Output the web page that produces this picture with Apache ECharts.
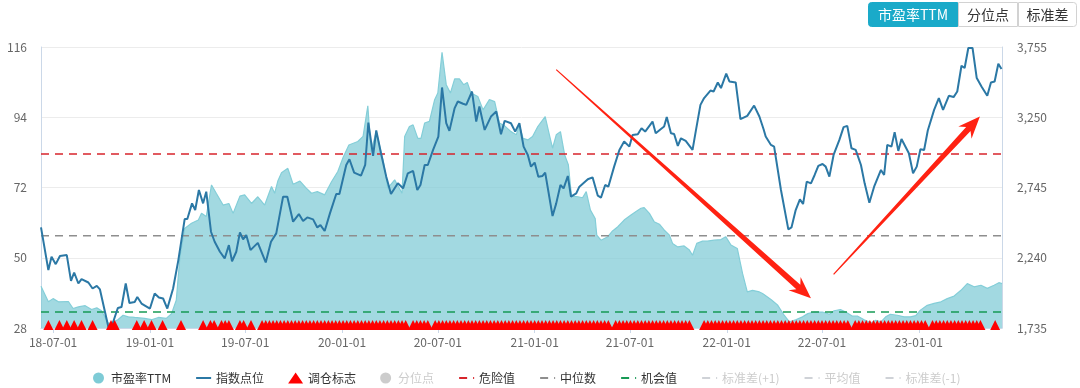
<!DOCTYPE html>
<html><head><meta charset="utf-8">
<script src="https://cdn.jsdelivr.net/npm/echarts@6/dist/echarts.min.js"></script>
<style>html,body{margin:0;padding:0;background:#fff}#c{width:1080px;height:388px}</style>
</head><body><div id="c"></div>
<script>
// ---------- data ----------
const xStart = '2018-06-08';
const xEnd = '2023-06-08';
const xTickDates = ['2018-07-01','2019-01-01','2019-07-01','2020-01-01','2020-07-01','2021-01-01','2021-07-01','2022-01-01','2022-07-01','2023-01-01'];
const xTickLabels = ['18-07-01','19-01-01','19-07-01','20-01-01','20-07-01','21-01-01','21-07-01','22-01-01','22-07-01','23-01-01'];
const leftTicks = [28, 50, 72, 94, 116];
const rightTicks = [1735, 2240, 2745, 3250, 3755];

const peDates = ['2018-06-08','2018-06-22','2018-07-01','2018-07-11','2018-07-30','2018-08-08','2018-08-18','2018-08-31','2018-09-12','2018-09-22','2018-10-01','2018-10-14','2018-10-23','2018-11-01','2018-11-11','2018-11-21','2018-12-03','2018-12-22','2019-01-04','2019-01-17','2019-02-01','2019-02-11','2019-02-20','2019-02-27','2019-03-08','2019-03-21','2019-04-03','2019-04-09','2019-04-18','2019-04-28','2019-05-07','2019-05-20','2019-05-31','2019-06-08','2019-06-21','2019-06-30','2019-07-13','2019-07-25','2019-08-07','2019-08-20','2019-08-26','2019-09-01','2019-09-08','2019-09-20','2019-09-30','2019-10-13','2019-10-25','2019-11-04','2019-11-15','2019-11-29','2019-12-12','2019-12-24','2020-01-03','2020-01-14','2020-01-31','2020-02-10','2020-02-19','2020-02-25','2020-03-06','2020-03-19','2020-03-28','2020-04-10','2020-04-24','2020-04-29','2020-05-08','2020-05-15','2020-05-24','2020-05-30','2020-06-06','2020-06-15','2020-06-25','2020-07-01','2020-07-09','2020-07-17','2020-07-25','2020-08-02','2020-08-11','2020-08-19','2020-08-26','2020-09-02','2020-09-15','2020-09-25','2020-10-07','2020-10-17','2020-10-26','2020-11-05','2020-11-17','2020-11-27','2020-12-03','2020-12-10','2020-12-19','2020-12-28','2021-01-07','2021-01-21','2021-01-29','2021-02-04','2021-02-11','2021-02-19','2021-02-27','2021-03-06','2021-03-12','2021-03-24','2021-04-02','2021-04-09','2021-04-17','2021-04-26','2021-04-29','2021-05-07','2021-05-20','2021-05-29','2021-06-08','2021-06-20','2021-07-03','2021-07-12','2021-07-22','2021-07-28','2021-08-07','2021-08-16','2021-08-26','2021-09-04','2021-09-14','2021-09-20','2021-09-30','2021-10-12','2021-10-22','2021-10-28','2021-11-05','2021-11-16','2021-11-25','2021-12-08','2021-12-21','2021-12-30','2022-01-09','2022-01-21','2022-01-31','2022-02-09','2022-02-19','2022-03-04','2022-03-10','2022-03-26','2022-04-08','2022-04-20','2022-04-30','2022-05-12','2022-05-25','2022-06-04','2022-06-16','2022-07-02','2022-07-15','2022-07-24','2022-08-05','2022-08-15','2022-08-28','2022-09-07','2022-09-19','2022-10-02','2022-10-11','2022-10-21','2022-10-30','2022-11-08','2022-11-21','2022-12-04','2022-12-16','2022-12-26','2023-01-04','2023-01-17','2023-01-30','2023-02-12','2023-02-24','2023-03-09','2023-03-22','2023-04-03','2023-04-16','2023-04-29','2023-05-11','2023-05-24','2023-06-02','2023-06-08'];
const peValues = [41.1,36.2,37.2,36.2,36.3,34.1,34.6,35.0,33.8,34.3,33.4,29.4,29.9,30.6,32.0,31.5,31.3,31.0,30.6,31.3,31.0,32.5,36.7,50.3,59.2,60.8,61.8,63.9,62.9,72.8,70.2,66.5,67.0,63.9,69.3,69.7,67.0,69.1,66.5,72.3,70.2,74.0,76.6,78.0,73.0,74.0,71.8,70.2,70.7,69.7,73.8,77.0,81.4,85.3,86.4,88.0,97.6,83.3,89.5,80.6,71.8,74.4,70.2,88.0,91.1,91.6,87.4,87.4,92.2,92.7,99.5,101.6,114.3,104.2,101.6,106.0,106.0,104.2,104.9,101.6,100.5,96.3,99.5,98.9,92.2,91.3,89.5,88.5,91.6,87.4,86.9,88.0,91.1,94.2,88.5,84.3,88.5,89.5,82.2,79.1,69.3,69.1,68.8,70.7,64.9,62.3,57.1,55.5,56.6,58.4,59.7,61.8,63.4,64.4,65.5,65.7,63.9,61.3,60.5,58.7,57.1,54.5,53.4,53.7,52.4,50.8,54.5,55.2,55.2,55.5,55.7,56.6,54.0,52.9,45.1,39.3,39.8,39.3,38.8,36.9,35.1,32.0,29.9,30.6,31.5,32.5,33.0,33.0,32.3,33.4,33.8,33.0,31.7,31.7,30.6,29.6,30.4,29.9,31.5,32.3,32.0,31.5,31.5,31.9,33.6,35.1,35.7,36.2,37.2,38.0,39.8,41.9,40.9,41.4,40.4,41.4,42.2,41.9];

const idxDates = ['2018-06-08','2018-06-22','2018-06-28','2018-07-06','2018-07-14','2018-07-27','2018-08-04','2018-08-10','2018-08-18','2018-08-24','2018-09-06','2018-09-14','2018-09-22','2018-09-28','2018-10-14','2018-10-21','2018-11-01','2018-11-08','2018-11-16','2018-11-23','2018-12-03','2018-12-08','2018-12-16','2019-01-01','2019-01-10','2019-01-18','2019-01-26','2019-02-03','2019-02-14','2019-02-24','2019-03-08','2019-03-13','2019-03-22','2019-03-28','2019-04-04','2019-04-12','2019-04-18','2019-04-27','2019-05-04','2019-05-14','2019-05-23','2019-05-31','2019-06-06','2019-06-14','2019-06-21','2019-06-27','2019-07-03','2019-07-11','2019-07-25','2019-08-09','2019-08-19','2019-08-29','2019-09-11','2019-09-19','2019-09-30','2019-10-11','2019-10-19','2019-10-27','2019-11-07','2019-11-15','2019-11-21','2019-11-29','2019-12-09','2019-12-21','2019-12-27','2020-01-09','2020-01-15','2020-01-24','2020-02-06','2020-02-14','2020-02-20','2020-02-29','2020-03-06','2020-03-15','2020-03-25','2020-04-03','2020-04-16','2020-04-26','2020-05-05','2020-05-15','2020-05-23','2020-05-29','2020-06-06','2020-06-12','2020-06-22','2020-07-02','2020-07-09','2020-07-17','2020-07-23','2020-08-02','2020-08-08','2020-08-18','2020-08-24','2020-09-04','2020-09-12','2020-09-18','2020-09-28','2020-10-10','2020-10-20','2020-10-29','2020-11-05','2020-11-17','2020-11-25','2020-12-03','2020-12-11','2020-12-19','2020-12-25','2021-01-01','2021-01-08','2021-01-16','2021-01-21','2021-02-04','2021-02-11','2021-02-19','2021-02-25','2021-03-05','2021-03-11','2021-03-21','2021-03-27','2021-04-12','2021-04-21','2021-05-01','2021-05-07','2021-05-15','2021-05-21','2021-06-01','2021-06-11','2021-06-20','2021-06-30','2021-07-06','2021-07-16','2021-07-23','2021-07-30','2021-08-13','2021-08-19','2021-08-29','2021-09-04','2021-09-09','2021-09-17','2021-09-23','2021-09-30','2021-10-06','2021-10-15','2021-10-28','2021-11-03','2021-11-12','2021-11-19','2021-12-01','2021-12-07','2021-12-15','2021-12-21','2021-12-31','2022-01-06','2022-01-18','2022-01-27','2022-02-09','2022-02-22','2022-03-04','2022-03-12','2022-03-16','2022-03-26','2022-04-01','2022-04-14','2022-04-28','2022-05-04','2022-05-12','2022-05-20','2022-05-26','2022-06-02','2022-06-10','2022-06-17','2022-06-24','2022-07-02','2022-07-08','2022-07-15','2022-07-23','2022-08-03','2022-08-11','2022-08-18','2022-08-26','2022-09-03','2022-09-13','2022-09-20','2022-09-29','2022-10-08','2022-10-21','2022-10-27','2022-11-02','2022-11-10','2022-11-16','2022-11-23','2022-11-29','2022-12-13','2022-12-21','2022-12-28','2023-01-04','2023-01-11','2023-01-18','2023-01-30','2023-02-08','2023-02-16','2023-02-27','2023-03-08','2023-03-15','2023-03-23','2023-03-29','2023-04-05','2023-04-13','2023-04-21','2023-04-30','2023-05-11','2023-05-18','2023-05-25','2023-06-01','2023-06-07'];
const idxValues = [2458,2151,2247,2194,2252,2259,2074,2134,2055,2086,2062,2019,2038,2012,1742,1755,1879,1886,2055,1915,1922,1958,1911,1875,1983,1954,1947,1875,2019,2223,2518,2518,2631,2583,2727,2631,2715,2427,2355,2283,2235,2331,2215,2283,2422,2372,2403,2295,2347,2206,2355,2415,2679,2679,2499,2554,2504,2530,2516,2458,2475,2432,2559,2698,2698,2907,2948,2852,2830,2907,3212,2972,3155,2991,2823,2698,2775,2739,2847,2864,2727,2763,2907,2907,3015,3111,3464,3207,3152,3316,3363,3347,3339,3435,3219,3327,3159,3255,3291,3128,3224,3207,3147,3207,3039,2979,2895,2924,2823,2828,2852,2540,2631,2763,2739,2828,2679,2703,2751,2804,2818,2686,2672,2763,2751,2895,3015,3075,3039,3123,3128,3171,3147,3219,3135,3166,3183,3251,3135,3130,3044,3099,3080,3015,3147,3339,3388,3442,3435,3500,3460,3563,3507,3500,3236,3260,3334,3255,3164,3111,3051,3039,2727,2444,2458,2583,2660,2626,2787,2775,2835,2900,2914,2895,2823,2979,3087,3179,3188,3027,3015,2907,2775,2636,2751,2871,2835,3051,3039,3143,3008,3094,2991,2847,2895,3020,3015,3155,3303,3388,3303,3404,3395,3435,3620,3604,3748,3748,3532,3471,3404,3500,3507,3635,3597];

const signalDates = ['2018-06-22','2018-07-13','2018-07-27','2018-08-10','2018-08-24','2018-09-14','2018-10-19','2018-10-26','2018-12-07','2018-12-21',
'2019-01-04','2019-01-25','2019-03-01','2019-04-12','2019-04-26','2019-05-03','2019-05-17','2019-05-24','2019-05-31','2019-06-21','2019-06-28','2019-07-12','2019-08-02','2019-08-09','2019-08-16','2019-08-23','2019-08-30','2019-09-06','2019-09-13','2019-09-20','2019-09-27','2019-10-04','2019-10-11','2019-10-18','2019-10-25','2019-11-01','2019-11-08','2019-11-15','2019-11-22','2019-11-29','2019-12-06','2019-12-13','2019-12-20','2019-12-27',
'2020-01-03','2020-01-10','2020-01-17','2020-01-24','2020-01-31','2020-02-07','2020-02-14','2020-02-21','2020-02-28','2020-03-06','2020-03-13','2020-03-20','2020-03-27','2020-04-03','2020-04-10','2020-04-17','2020-04-24','2020-05-01','2020-05-15','2020-05-22','2020-05-29','2020-06-05','2020-06-12','2020-06-26','2020-07-03','2020-07-10','2020-07-17','2020-07-24','2020-07-31','2020-08-07','2020-08-14','2020-08-21','2020-08-28','2020-09-04','2020-09-11','2020-09-18','2020-09-25','2020-10-02','2020-10-09','2020-10-16','2020-10-23','2020-10-30','2020-11-06','2020-11-13','2020-11-20','2020-11-27','2020-12-04','2020-12-11','2020-12-18','2020-12-25',
'2021-01-01','2021-01-08','2021-01-15','2021-01-22','2021-01-29','2021-02-05','2021-02-12','2021-02-19','2021-02-26','2021-03-05','2021-03-12','2021-03-19','2021-03-26','2021-04-02','2021-04-09','2021-04-16','2021-04-23','2021-04-30','2021-05-07','2021-05-14','2021-05-21','2021-06-04','2021-06-11','2021-06-18','2021-06-25','2021-07-02','2021-07-09','2021-07-16','2021-07-23','2021-07-30','2021-08-06','2021-08-13','2021-08-20','2021-08-27','2021-09-03','2021-09-10','2021-09-17','2021-09-24','2021-10-01','2021-10-08','2021-10-15','2021-10-22','2021-11-19','2021-11-26','2021-12-03','2021-12-10','2021-12-17','2021-12-24','2021-12-31',
'2022-01-07','2022-01-14','2022-01-21','2022-01-28','2022-02-04','2022-02-11','2022-02-18','2022-02-25','2022-03-04','2022-03-11','2022-03-18','2022-03-25','2022-04-01','2022-04-08','2022-04-15','2022-04-22','2022-04-29','2022-05-06','2022-05-13','2022-05-20','2022-05-27','2022-06-03','2022-06-10','2022-06-17','2022-06-24','2022-07-01','2022-07-08','2022-07-15','2022-07-22','2022-07-29','2022-08-05','2022-08-12','2022-08-19','2022-09-02','2022-09-09','2022-09-16','2022-09-23','2022-09-30','2022-10-07','2022-10-14','2022-10-21','2022-10-28','2022-11-04','2022-11-11','2022-11-18','2022-11-25','2022-12-02','2022-12-09','2022-12-16','2022-12-23','2022-12-30',
'2023-01-06','2023-01-13','2023-01-27','2023-02-03','2023-02-10','2023-02-17','2023-02-24','2023-03-03','2023-03-10','2023-03-17','2023-03-24','2023-03-31','2023-04-07','2023-04-14','2023-04-21','2023-04-28','2023-05-26'];
const signalLevel = 28;

const dangerValue = 82.5;
const medianValue = 56.9;
const chanceValue = 33.0;

// annotation arrows: [fromDate, fromPE, toDate, toPE]
const arrowData = [
  ['2021-02-11', 108.9, '2022-06-10', 37.3],
  ['2022-07-23', 44.8, '2023-04-27', 94.2]
];

const legendNames = ['市盈率TTM','指数点位','调仓标志','分位点','危险值','中位数','机会值','标准差(+1)','平均值','标准差(-1)'];
const buttonLabels = ['市盈率TTM','分位点','标准差'];

// ---------- chart ----------
const ts = (d) => Date.UTC(+d.slice(0, 4), +d.slice(5, 7) - 1, +d.slice(8, 10));
const zip = (a, b) => a.map((d, i) => [ts(d), b[i]]);
const flat = (v) => [[ts(xStart), v], [ts(xEnd), v]];
const tickTimes = xTickDates.map(ts);
const axisColor = '#cbd8e8';
const font = '"Noto Sans CJK SC", "Noto Sans", sans-serif';

function renderArrow(params, api) {
  const p0 = api.coord([api.value(0), api.value(1)]);
  const p1 = api.coord([api.value(2), api.value(3)]);
  const dx = p1[0] - p0[0], dy = p1[1] - p0[1];
  const len = Math.hypot(dx, dy);
  const ux = dx / len, uy = dy / len, nx = -uy, ny = ux;
  const head = 22, notch = 17, hw = 9, w0 = 0.6, w1 = 3;
  const bx = p1[0] - ux * notch, by = p1[1] - uy * notch;
  const hx = p1[0] - ux * head, hy = p1[1] - uy * head;
  const pts = [
    [p0[0] + nx * w0, p0[1] + ny * w0],
    [bx + nx * w1, by + ny * w1],
    [hx + nx * hw, hy + ny * hw],
    p1,
    [hx - nx * hw, hy - ny * hw],
    [bx - nx * w1, by - ny * w1],
    [p0[0] - nx * w0, p0[1] - ny * w0]
  ];
  return { type: 'polygon', shape: { points: pts }, style: { fill: '#ff2212' } };
}

const btnX = [868, 958, 1018, 1077];
const graphic = [];
buttonLabels.forEach((t, i) => {
  const x0 = btnX[i], x1 = btnX[i + 1];
  graphic.push({
    type: 'rect', z: 100,
    shape: { x: x0 + 0.5, y: 2.5, width: x1 - x0 - 1, height: 24, r: i === 0 ? [3, 0, 0, 3] : (i === 2 ? [0, 3, 3, 0] : 0) },
    style: i === 0 ? { fill: '#1aaac9', stroke: '#1aaac9' } : { fill: '#fff', stroke: '#d2d2d2' }
  });
  graphic.push({
    type: 'text', z: 101, x: (x0 + x1) / 2, y: 15,
    style: { text: t, fill: i === 0 ? '#fff' : '#333', font: '14px ' + font, align: 'center', verticalAlign: 'middle' }
  });
});

const dashed = (name, color, v) => ({
  name, type: 'line', yAxisIndex: 0, data: flat(v), symbol: 'none', silent: true,
  lineStyle: { color, width: 1.6, type: [8, 6] }, itemStyle: { color }, z: 4
});
const hidden = (name, color, sym) => ({
  name, type: 'line', yAxisIndex: 0, data: [], symbol: sym || 'none',
  lineStyle: { color, width: 2, type: [8, 6] }, itemStyle: { color }
});
const lineIcon = (name, dash) => ({ name, itemStyle: { opacity: 0 }, lineStyle: dash ? { width: 2, type: [8, 6] } : { width: 2 } });

const option = {
  animation: false,
  textStyle: { fontFamily: font },
  graphic,
  grid: { left: 41, right: 78, top: 47, bottom: 60 },
  legend: {
    top: 367, left: 88, itemGap: 24, itemWidth: 15, itemHeight: 11,
    textStyle: { fontSize: 12, color: '#333' }, inactiveColor: '#ccc', inactiveBorderColor: '#ccc',
    data: [
      { name: legendNames[0], icon: 'circle' },
      lineIcon(legendNames[1], false),
      { name: legendNames[2], icon: 'triangle' },
      { name: legendNames[3], icon: 'circle' },
      lineIcon(legendNames[4], true),
      lineIcon(legendNames[5], true),
      lineIcon(legendNames[6], true),
      lineIcon(legendNames[7], true),
      lineIcon(legendNames[8], true),
      lineIcon(legendNames[9], true)
    ],
    selected: { '分位点': false, '标准差(+1)': false, '平均值': false, '标准差(-1)': false }
  },
  xAxis: {
    type: 'value', min: ts(xStart), max: ts(xEnd),
    axisLine: { lineStyle: { color: axisColor } },
    axisTick: { show: true, customValues: tickTimes, length: 5, lineStyle: { color: axisColor } },
    axisLabel: {
      customValues: tickTimes, color: '#666', fontSize: 12, margin: 8,
      formatter: (v) => { const i = tickTimes.indexOf(+v); return i >= 0 ? xTickLabels[i] : ''; }
    },
    splitLine: { show: false }
  },
  yAxis: [
    {
      type: 'value', min: leftTicks[0], max: leftTicks[leftTicks.length - 1], interval: leftTicks[1] - leftTicks[0],
      axisLine: { show: true, lineStyle: { color: axisColor } }, axisTick: { show: false },
      axisLabel: { color: '#666', fontSize: 12, margin: 14 },
      splitLine: { lineStyle: { color: '#ececec' } }
    },
    {
      type: 'value', min: rightTicks[0], max: rightTicks[rightTicks.length - 1], interval: rightTicks[1] - rightTicks[0],
      axisLine: { show: true, lineStyle: { color: axisColor } }, axisTick: { show: false },
      axisLabel: { color: '#666', fontSize: 12, margin: 15, formatter: (v) => v.toLocaleString('en-US') },
      splitLine: { show: false }
    }
  ],
  series: [
    {
      name: '市盈率TTM', type: 'line', yAxisIndex: 0, data: zip(peDates, peValues),
      symbol: 'none', itemStyle: { color: '#7ecbd6' },
      lineStyle: { color: '#84ced8', width: 1.2 },
      areaStyle: { color: '#7ecbd6', opacity: 0.72 }, z: 2
    },
    {
      name: '指数点位', type: 'line', yAxisIndex: 1, data: zip(idxDates, idxValues),
      symbol: 'none', itemStyle: { color: '#2b78a5' },
      lineStyle: { color: '#2b78a5', width: 2 }, z: 5
    },
    {
      name: '调仓标志', type: 'scatter', yAxisIndex: 0,
      data: signalDates.map(d => [ts(d), signalLevel]),
      symbol: 'triangle', symbolSize: [10, 10], symbolOffset: [0, -3],
      itemStyle: { color: '#ff0000', opacity: 1 }, z: 6
    },
    hidden('分位点', '#999', 'circle'),
    dashed('危险值', '#d7252c', dangerValue),
    dashed('中位数', '#8e8e8e', medianValue),
    dashed('机会值', '#179a55', chanceValue),
    hidden('标准差(+1)', '#999'),
    hidden('平均值', '#999'),
    hidden('标准差(-1)', '#999'),
    {
      type: 'custom', yAxisIndex: 0, silent: true, clip: false, z: 10,
      renderItem: renderArrow,
      data: arrowData.map(a => [ts(a[0]), a[1], ts(a[2]), a[3]]),
      encode: { x: [0, 2], y: [1, 3] }
    }
  ]
};

const chart = echarts.init(document.getElementById('c'), null, { renderer: 'canvas' });
chart.setOption(option);
</script>
</body></html>
